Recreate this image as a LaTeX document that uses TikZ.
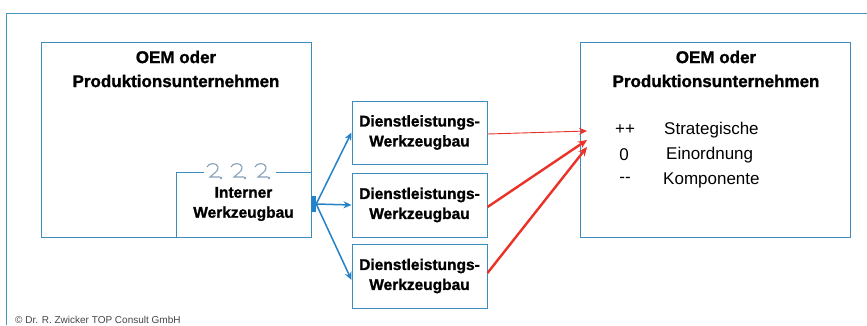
\documentclass[tikz,border=0pt]{standalone}
\usepackage{fontspec}
\setmainfont{Liberation Sans}
\newfontfamily\heavyfont[FakeBold=1.2]{Liberation Sans Bold}
\usetikzlibrary{arrows.meta}
\definecolor{bx}{RGB}{60,140,190}
\definecolor{frm}{RGB}{70,150,185}
\definecolor{ar}{RGB}{35,130,200}
\definecolor{rd}{RGB}{235,50,40}
\definecolor{curlc}{RGB}{135,160,185}
\definecolor{cpy}{RGB}{70,70,70}
\begin{document}
\begin{tikzpicture}[x=1pt,y=-1pt,
  box/.style={draw=bx, line width=1pt, fill=white, inner sep=0pt},
  ttl/.style={font=\fontsize{17}{24}\selectfont\heavyfont, align=center, inner sep=0pt},
  btxt/.style={font=\fontsize{15.5}{20}\selectfont\heavyfont, align=center},
  leg/.style={font=\fontsize{17}{20}\selectfont, inner sep=0pt},
  blu/.style={draw=ar, line width=1.5pt, -{Stealth[length=8pt,width=7pt]}},
  redthin/.style={draw=rd, line width=0.9pt, -{Stealth[length=8pt,width=7pt]}},
  redthick/.style={draw=rd, line width=2.4pt, -{Stealth[length=9pt,width=8pt]}},
  curl/.pic={\draw[curlc, line width=1.1pt] (0,4) .. controls (1,0) and (10,-1) .. (11,4) .. controls (12,8) and (6,11) .. (3,14) -- (13,14); \fill[curlc] (14,15) circle (1.4);}
]
\useasboundingbox (0,0) rectangle (867,325);
\fill[white] (0,0) rectangle (867,325);
\draw[frm, line width=1pt] (6,325) -- (6,13) -- (867,13);

% left big box
\node[box, minimum width=270pt, minimum height=195pt] (L) at (176,139.5) {};
\node[ttl] (Lt) at (176,69) {OEM oder\\Produktionsunternehmen};

% internal tool shop
\node[box, minimum width=135pt, minimum height=65pt] (I) at (243.5,204.5) {};
\fill[white] (204,168) rectangle (276,176);
\pic at (207,163) {curl};
\pic at (231,163) {curl};
\pic at (255,163) {curl};
\node[btxt] (It) at (243.5,204) {Interner\\Werkzeugbau};

% fan origin
\node[fill=ar, minimum width=5pt, minimum height=16pt, inner sep=0pt] (F) at (313.5,204) {};

% middle boxes
\node[box, btxt, minimum width=135pt, minimum height=63pt] (M1) at (419.5,132.5) {Dienstleistungs-\\Werkzeugbau};
\node[box, btxt, minimum width=135pt, minimum height=64pt] (M2) at (419.5,205) {Dienstleistungs-\\Werkzeugbau};
\node[box, btxt, minimum width=135pt, minimum height=64pt] (M3) at (419.5,276) {Dienstleistungs-\\Werkzeugbau};

% right big box
\node[box, minimum width=270pt, minimum height=195pt] (R) at (715,139.5) {};
\node[ttl] (Rt) at (716,69) {OEM oder\\Produktionsunternehmen};

% legend
\node[leg] (p1) at (625,130) {++};
\node[leg] (p2) at (624,155) {0};
\node[leg] (p3) at (625,180) {-{}-};
\node[leg, anchor=west] (s1) at (664,130) {Strategische};
\node[leg, anchor=west] (s2) at (666,155) {Einordnung};
\node[leg, anchor=west] (s3) at (663,180) {Komponente};

% blue connectors
\draw[blu] (F.east) -- (M1.west);
\draw[blu] (F.east) -- (M2.west);
\draw[blu] (F.east) -- ([yshift=-4pt]M3.west);

% red connectors
\coordinate (t1) at (587,131);
\coordinate (t2) at (587,140);
\coordinate (t3) at (587,147);
\draw[redthin] ([yshift=-1.5pt]M1.east) -- (t1);
\draw[redthick] ([yshift=-2pt]M2.east) -- (t2);
\draw[redthick] ([yshift=3pt]M3.east) -- (t3);

% copyright
\node[anchor=west, text=cpy, font=\fontsize{10}{12}\selectfont, inner sep=0pt] (cp) at (15,320) {© Dr. R. Zwicker TOP Consult GmbH};
\end{tikzpicture}
\end{document}
